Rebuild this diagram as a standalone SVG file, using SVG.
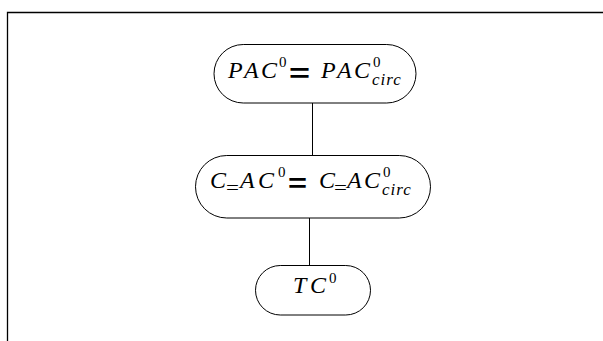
<svg xmlns="http://www.w3.org/2000/svg" width="603" height="341" viewBox="0 0 603 341">
<style>
.node{fill:#fff;stroke:#000;stroke-width:1}
.edge{stroke:#000;stroke-width:1;fill:none}
.m{font-family:"Liberation Serif",serif;font-style:italic;font-size:24px;fill:#000}
.sup{font-family:"Liberation Serif",serif;font-size:15px;fill:#000}
.sub{font-family:"Liberation Serif",serif;font-style:italic;font-size:17px;fill:#000;letter-spacing:1px}
.seq{font-family:"Liberation Serif",serif;font-size:18px;fill:#000}
.eq{font-family:"Liberation Sans",sans-serif;font-weight:bold;font-size:26px;fill:#000}
</style>
<rect width="603" height="341" fill="#fff"/>
<path d="M7.5,341 V12.5 H603" stroke="#000" stroke-width="1.3" fill="none"/>
<g id="connectors">
<line class="edge" x1="312.5" y1="103" x2="312.5" y2="155"/>
<line class="edge" x1="309.5" y1="218" x2="309.5" y2="265"/>
</g>
<g id="node-pac">
<rect class="node" x="214" y="44.5" width="202" height="58.5" rx="29.25"/>
<text class="m" x="228 244 261" y="78">PAC</text>
<text class="sup" x="279" y="67">0</text>
<text class="eq" x="289" y="82" textLength="21" lengthAdjust="spacingAndGlyphs">=</text>
<text class="m" x="321 337 354" y="78">PAC</text>
<text class="sup" x="373" y="67">0</text>
<text class="sub" x="372" y="85">circ</text>
</g>
<g id="node-ceq">
<rect class="node" x="195.5" y="155.5" width="235" height="62.5" rx="31.25"/>
<text class="m" x="210" y="188">C</text>
<text class="seq" x="226" y="194" textLength="13" lengthAdjust="spacingAndGlyphs">=</text>
<text class="m" x="240 258" y="188">AC</text>
<text class="sup" x="278" y="177">0</text>
<text class="eq" x="288" y="192" textLength="19" lengthAdjust="spacingAndGlyphs">=</text>
<text class="m" x="319" y="188">C</text>
<text class="seq" x="334" y="194" textLength="13" lengthAdjust="spacingAndGlyphs">=</text>
<text class="m" x="347 364" y="188">AC</text>
<text class="sup" x="383" y="177">0</text>
<text class="sub" x="382" y="195">circ</text>
</g>
<g id="node-tc">
<rect class="node" x="255.5" y="265.5" width="115" height="49.5" rx="24.75"/>
<text class="m" x="293 310" y="293">TC</text>
<text class="sup" x="329" y="283">0</text>
</g>
</svg>
